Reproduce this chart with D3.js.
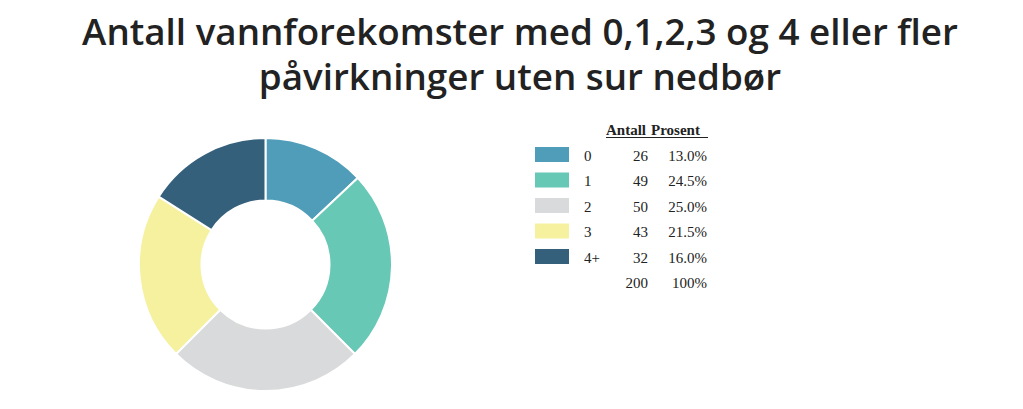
<!DOCTYPE html>
<html><head><meta charset="utf-8">
<script src="https://cdn.jsdelivr.net/npm/d3@7"></script>
<style>body{margin:0;background:#fff;}</style>
</head><body>
<svg id="c" width="1023" height="409"></svg>
<script>
const titleLines = ["Antall vannforekomster med 0,1,2,3 og 4 eller fler", "påvirkninger uten sur nedbør"];
const categories = ["0", "1", "2", "3", "4+"];
const counts = [26, 49, 50, 43, 32];
const percents = ["13.0%", "24.5%", "25.0%", "21.5%", "16.0%"];
const totalCount = 200;
const totalPercent = "100%";
const colors = ["#4f9db8", "#66c8b5", "#d9dadb", "#f5f19f", "#35607c"];
const headers = ["Antall", "Prosent"];

const svg = d3.select("#c");
const title = svg.append("text").attr("text-anchor", "middle")
  .attr("font-family", "'Open Sans', 'Noto Sans', sans-serif").attr("font-weight", 600)
  .attr("font-size", 36).attr("fill", "#222");
const tspans = titleLines.map((t, i) => title.append("tspan").attr("x", 520).attr("y", 45 + i * 45).text(t));
// fit first line to reference width (~876px)
const w0 = tspans[0].node().getComputedTextLength();
const fs = 36 * 876 / w0;
title.attr("font-size", Math.min(fs, 38));

const color = d3.scaleOrdinal().domain(categories).range(colors);
const pie = d3.pie().sort(null).value(d => d.v);
const data = categories.map((c, i) => ({c, v: counts[i]}));
const arc = d3.arc().innerRadius(64).outerRadius(126.5);
const g = svg.append("g").attr("transform", "translate(265.5,264.5)");
g.selectAll("path").data(pie(data)).join("path")
  .attr("d", arc).attr("fill", d => color(d.data.c))
  .attr("stroke", "#fff").attr("stroke-width", 2);

const lg = svg.append("g").attr("font-family", "'Liberation Serif', 'Times New Roman', serif")
  .attr("font-size", 15).attr("fill", "#222");
const y = d3.scaleLinear().domain([0, 1]).range([155, 180.5]);
// header
lg.append("text").attr("x", 606).attr("y", 135).attr("font-weight", "bold")
  .text(headers[0]);
lg.append("text").attr("x", 651).attr("y", 135).attr("font-weight", "bold")
  .text(headers[1]);
lg.append("line").attr("x1", 606).attr("x2", 708).attr("y1", 137.5).attr("y2", 137.5)
  .attr("stroke", "#222").attr("stroke-width", 1);

const rows = lg.selectAll("g.row").data(data).join("g").attr("class", "row")
  .attr("transform", (d, i) => `translate(0,${y(i)})`);
rows.append("rect").attr("x", 535).attr("y", -8).attr("width", 34).attr("height", 15)
  .attr("fill", d => color(d.c));
rows.append("text").attr("x", 584).attr("y", 5.5).text(d => d.c);
rows.append("text").attr("x", 648).attr("y", 5.5).attr("text-anchor", "end").text(d => d.v);
rows.append("text").attr("x", 707).attr("y", 5.5).attr("text-anchor", "end").text((d, i) => percents[i]);
const tot = lg.append("g").attr("transform", `translate(0,${y(5)})`);
tot.append("text").attr("x", 648).attr("y", 5.5).attr("text-anchor", "end").text(totalCount);
tot.append("text").attr("x", 707).attr("y", 5.5).attr("text-anchor", "end").text(totalPercent);
</script>
</body></html>
